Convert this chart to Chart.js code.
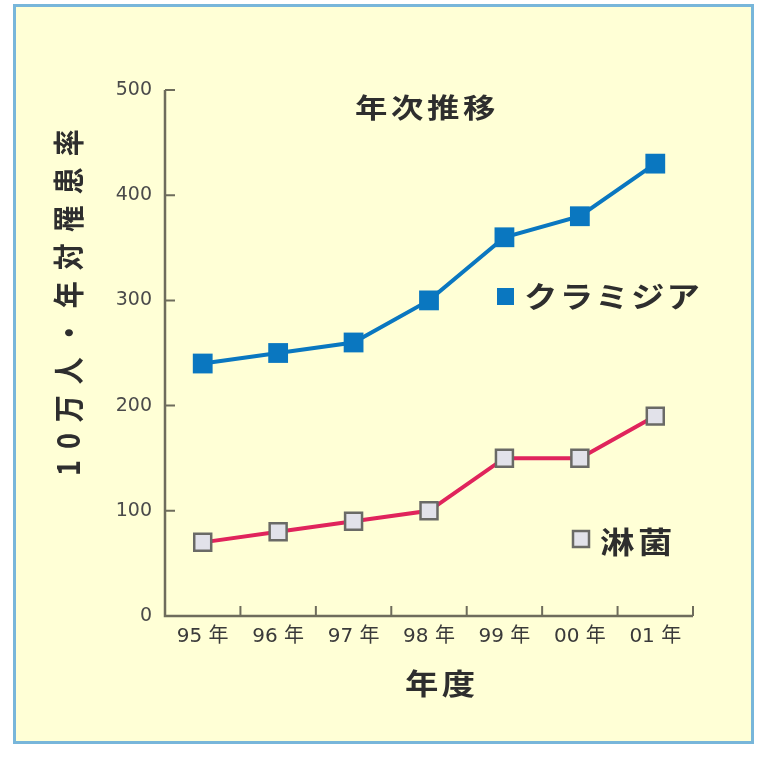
<!DOCTYPE html>
<html>
<head>
<meta charset="utf-8">
<script src="https://cdn.jsdelivr.net/npm/chart.js@4"></script>
<style>
html,body{margin:0;padding:0;background:#ffffff;width:761px;height:763px;overflow:hidden;}
#frame{position:absolute;left:13px;top:4px;width:741px;height:740px;box-sizing:border-box;border:3px solid #78b6da;background:#ffffd6;}
#c{position:absolute;left:0;top:0;}
</style>
</head>
<body>
<div id="frame"></div>
<canvas id="c" width="761" height="763"></canvas>
<script>
const categories = ['95 年','96 年','97 年','98 年','99 年','00 年','01 年'];
const chlamydia = [240, 250, 260, 300, 360, 380, 430];
const gonorrhea = [70, 80, 90, 100, 150, 150, 190];
const yTicks = [0, 100, 200, 300, 400, 500];
const chartTitle = '年次推移';
const yTitle = '10万人・年対罹患率';
const xTitle = '年度';
const seriesNames = ['クラミジア', '淋菌'];

const JP = '"Noto Sans CJK JP", "Noto Sans", sans-serif';

function wideText(ctx, text, x, y, size, spacing, sx) {
  ctx.save();
  ctx.translate(x, y);
  ctx.scale(sx, 1);
  ctx.font = 'bold ' + size + 'px ' + JP;
  ctx.letterSpacing = spacing + 'px';
  ctx.textAlign = 'left';
  ctx.textBaseline = 'middle';
  ctx.fillText(text, 0, 0);
  ctx.restore();
}

const decorPlugin = {
  id: 'decor',
  afterDraw(chart) {
    const ctx = chart.ctx;
    const xs = chart.scales.x, ys = chart.scales.y;
    ctx.save();
    // axis lines
    ctx.strokeStyle = '#6e6c5c';
    ctx.lineWidth = 2.5;
    ctx.beginPath();
    ctx.moveTo(xs.left, ys.getPixelForValue(500));
    ctx.lineTo(xs.left, ys.bottom);
    ctx.lineTo(xs.right, ys.bottom);
    ctx.stroke();
    // inward ticks
    ctx.lineWidth = 2;
    ctx.beginPath();
    yTicks.forEach(v => {
      if (v === 0) return;
      const y = ys.getPixelForValue(v);
      ctx.moveTo(xs.left, y); ctx.lineTo(xs.left + 10, y);
    });
    const n = categories.length;
    for (let i = 1; i <= n; i++) {
      const x = xs.left + i * (xs.right - xs.left) / n;
      ctx.moveTo(x, ys.bottom); ctx.lineTo(x, ys.bottom - 10);
    }
    ctx.stroke();

    ctx.fillStyle = '#2e2e2e';
    // chart title
    wideText(ctx, chartTitle, 355, 108, 27, 3, 1.2);
    // legends
    wideText(ctx, seriesNames[0], 524, 297, 29, 2, 1.15);
    wideText(ctx, seriesNames[1], 600, 542, 30, 3, 1.15);
    ctx.fillStyle = '#0a77c0';
    ctx.fillRect(497, 288, 17, 17);
    ctx.fillStyle = '#e2e2ea';
    ctx.strokeStyle = '#6a6a66';
    ctx.lineWidth = 2.5;
    ctx.fillRect(573, 531, 16, 16);
    ctx.strokeRect(573, 531, 16, 16);
    // x title
    ctx.fillStyle = '#2e2e2e';
    wideText(ctx, xTitle, 405, 684, 29, 3, 1.15);
    // y title
    ctx.save();
    ctx.translate(68, 476);
    ctx.rotate(-Math.PI / 2);
    ctx.scale(1, 1.15);
    ctx.font = 'bold 27px ' + JP;
    ctx.letterSpacing = '11px';
    ctx.textAlign = 'left';
    ctx.textBaseline = 'middle';
    ctx.fillText(yTitle, 0, 0);
    ctx.restore();
    ctx.restore();
  }
};

new Chart(document.getElementById('c'), {
  type: 'line',
  data: {
    labels: categories,
    datasets: [
      {
        label: seriesNames[0],
        data: chlamydia,
        borderColor: '#0a77c0',
        backgroundColor: '#0a77c0',
        borderWidth: 4,
        pointStyle: 'rect',
        pointRadius: 14,
        pointBorderWidth: 0,
        pointBackgroundColor: '#0a77c0',
        tension: 0
      },
      {
        label: seriesNames[1],
        data: gonorrhea,
        borderColor: '#e0245c',
        backgroundColor: '#e2e2ea',
        borderWidth: 4,
        pointStyle: 'rect',
        pointRadius: 12,
        pointBorderWidth: 2.5,
        pointBorderColor: '#6a6a66',
        pointBackgroundColor: '#e2e2ea',
        tension: 0
      }
    ]
  },
  options: {
    responsive: false,
    animation: false,
    layout: { padding: { top: 90, right: 68, left: 0, bottom: 0 } },
    plugins: { legend: { display: false }, title: { display: false }, tooltip: { enabled: false } },
    scales: {
      x: {
        type: 'category',
        offset: true,
        border: { display: false },
        grid: { display: false, drawTicks: false },
        ticks: { color: '#3a3a3a', padding: 9, font: { family: '"DejaVu Sans", "Noto Sans CJK JP", sans-serif', size: 20 }, maxRotation: 0, autoSkip: false },
        afterFit(s) { s.height = 147; }
      },
      y: {
        min: 0, max: 500,
        border: { display: false },
        grid: { display: false, drawTicks: false },
        afterBuildTicks(s) { s.ticks = yTicks.map(v => ({ value: v })); },
        ticks: { color: '#4a4a4a', padding: 13, font: { family: '"DejaVu Sans", sans-serif', size: 19 } },
        afterFit(s) { s.width = 165; }
      }
    }
  },
  plugins: [decorPlugin]
});
</script>
</body>
</html>
